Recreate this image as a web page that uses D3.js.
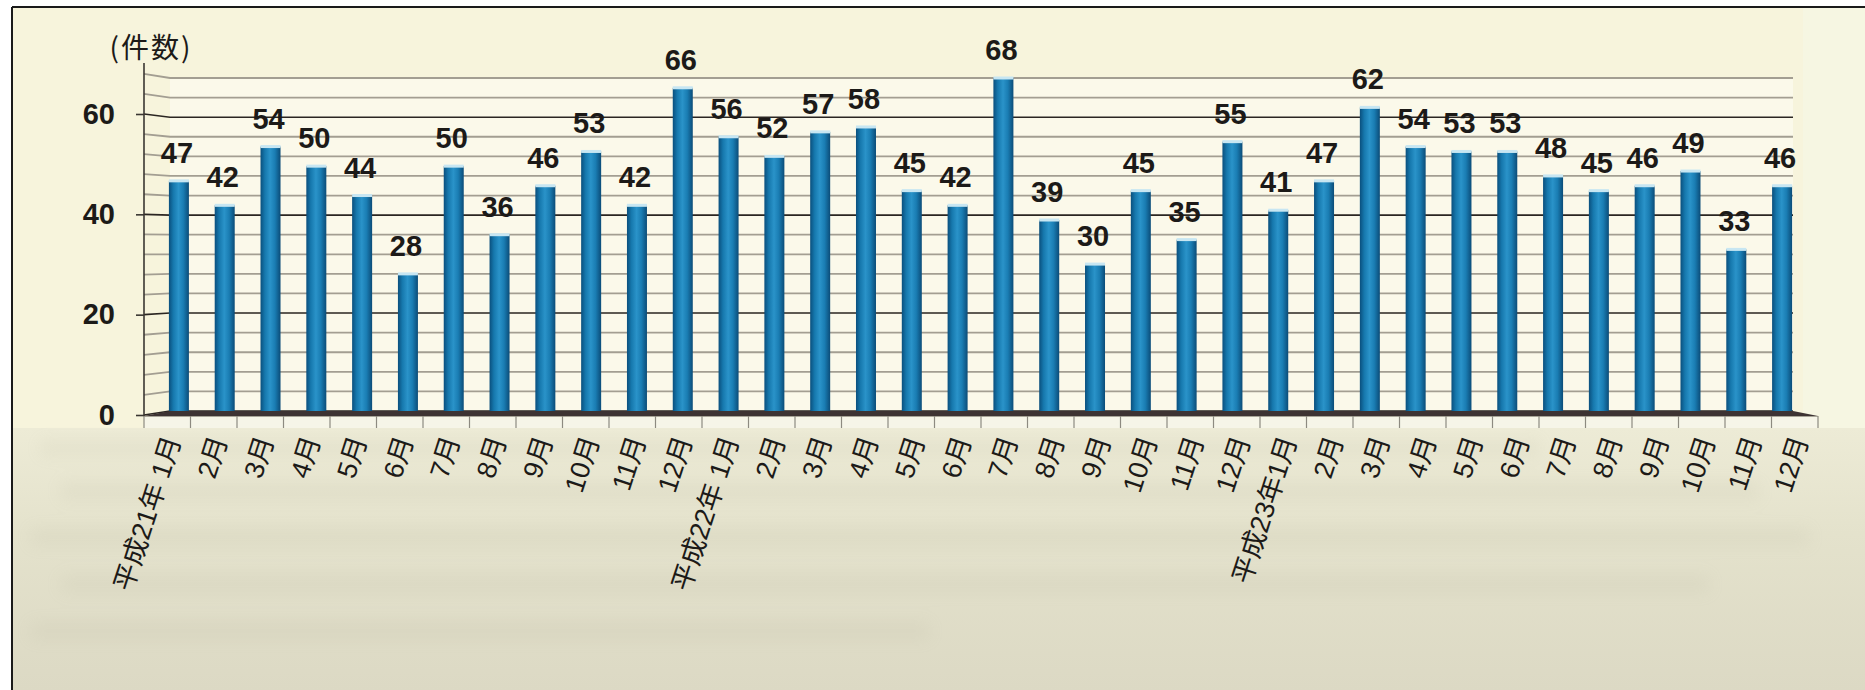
<!DOCTYPE html>
<html>
<head>
<meta charset="utf-8">
<script src="https://cdn.jsdelivr.net/npm/d3@7"></script>
<style>
  body { margin: 0; background: #ffffff; }
  svg { display: block; }
</style>
</head>
<body>
<svg id="chart" width="1865" height="690"></svg>
<script>
// Monthly counts (件数), Heisei 21 – 23
const yearLabels = ["平成21年 ", "平成22年 ", "平成23年"];
const monthLabels = ["1月", "2月", "3月", "4月", "5月", "6月", "7月", "8月", "9月", "10月", "11月", "12月"];
const countsH21 = [47, 42, 54, 50, 44, 28, 50, 36, 46, 53, 42, 66];
const countsH22 = [56, 52, 57, 58, 45, 42, 68, 39, 30, 45, 35, 55];
const countsH23 = [41, 47, 62, 54, 53, 53, 48, 45, 46, 49, 33, 46];
const yTickValues = [0, 20, 40, 60];
const gridValues = [0, 4, 8, 12, 16, 20, 24, 28, 32, 36, 40, 44, 48, 52, 56, 60, 64, 68];
const unitLabel = "(件数)";

const seriesByYear = [countsH21, countsH22, countsH23];
const rows = [];
seriesByYear.forEach((vals, yi) => {
  vals.forEach((v, mi) => {
    rows.push({
      id: yi * 12 + mi,
      label: (mi === 0 ? yearLabels[yi] : "") + monthLabels[mi],
      value: v
    });
  });
});
const ids = rows.map(d => d.id);

const svg = d3.select("#chart");
const W = 1865, H = 690;

// front (axis) and back (wall) geometry of the 3-D column chart
const xFront = d3.scaleBand().domain(ids).range([144, 1818]);
const xBack = d3.scaleBand().domain(ids).range([156, 1805]);
const yFront = d3.scaleLinear().domain([0, 60]).range([415, 114]);
const yBack = d3.scaleLinear().domain([0, 68]).range([411, 78]);
const wallLeft = 170, wallRight = 1793;

const defs = svg.append("defs");
const barGrad = defs.append("linearGradient").attr("id", "barGrad")
  .attr("x1", "0%").attr("x2", "100%").attr("y1", "0%").attr("y2", "0%");
[["0%", "#0a4f7d"], ["22%", "#1678ad"], ["48%", "#2a93c9"], ["72%", "#1a7db3"], ["100%", "#0b4c78"]]
  .forEach(([o, c]) => barGrad.append("stop").attr("offset", o).attr("stop-color", c));

const lowGrad = defs.append("linearGradient").attr("id", "lowGrad")
  .attr("x1", "0%").attr("x2", "0%").attr("y1", "0%").attr("y2", "100%");
[["0%", "#edebd6"], ["40%", "#e4e2cc"], ["100%", "#dcd9c4"]]
  .forEach(([o, c]) => lowGrad.append("stop").attr("offset", o).attr("stop-color", c));

defs.append("filter").attr("id", "soft").attr("x", "-10%").attr("y", "-50%").attr("width", "120%").attr("height", "200%")
  .append("feGaussianBlur").attr("stdDeviation", 8);

// page background
svg.append("rect").attr("width", W).attr("height", H).attr("fill", "#ffffff");
svg.append("rect").attr("x", 12).attr("y", 7).attr("width", W - 12).attr("height", H - 7).attr("fill", "#f7f4dc");
svg.append("rect").attr("x", 1803).attr("y", 7).attr("width", W - 1803).attr("height", 421).attr("fill", "#f6f6e2");

// lower band of the sheet (faint show-through from the reverse side)
svg.append("rect").attr("x", 12).attr("y", 428).attr("width", W - 12).attr("height", H - 428).attr("fill", "url(#lowGrad)");
const haze = svg.append("g").attr("filter", "url(#soft)").attr("opacity", 0.1);
[[40, 440, 1500, 16], [60, 482, 1700, 18], [30, 528, 1780, 18], [60, 575, 1650, 18], [30, 622, 900, 18]]
  .forEach(([x, y, w, h]) => haze.append("rect").attr("x", x).attr("y", y).attr("width", w).attr("height", h).attr("fill", "#a9a690"));

// back wall
svg.append("rect").attr("x", wallLeft).attr("y", yBack(68)).attr("width", wallRight - wallLeft)
  .attr("height", yBack(0) - yBack(68)).attr("fill", "#fbf9ea");

// gridlines: short diagonal on the side wall, then across the back wall
const grid = svg.append("g");
gridValues.forEach(v => {
  const major = yTickValues.includes(v);
  grid.append("path")
    .attr("d", `M144,${yFront(v)}L${wallLeft},${yBack(v)}L${wallRight},${yBack(v)}`)
    .attr("fill", "none")
    .attr("stroke", major ? "#2b2622" : "#a39e92")
    .attr("stroke-width", major ? 1.6 : 1.8);
});

// floor
svg.append("path")
  .attr("d", `M${wallLeft},${yBack(0)}L${wallRight},${yBack(0)}L1818,416L144,416Z`)
  .attr("fill", "#3d3333");
svg.append("rect").attr("x", 144).attr("y", 416).attr("width", 1818 - 144).attr("height", 12).attr("fill", "#f6f5e8");
svg.append("line").attr("x1", 144).attr("x2", 1818).attr("y1", 416.5).attr("y2", 416.5)
  .attr("stroke", "#a8a598").attr("stroke-width", 1);

// category boundary ticks
const bounds = ids.map(id => xFront(id)).concat([xFront.range()[1]]);
svg.append("g").selectAll("line").data(bounds).join("line")
  .attr("x1", d => d).attr("x2", d => d).attr("y1", 416).attr("y2", 428)
  .attr("stroke", "#8d8a80").attr("stroke-width", 1.2);

// bars
const barW = 20;
const bars = svg.append("g");
bars.selectAll("rect.bar").data(rows).join("rect")
  .attr("class", "bar")
  .attr("x", d => xBack(d.id) + xBack.bandwidth() / 2 - barW / 2)
  .attr("y", d => yBack(d.value))
  .attr("width", barW)
  .attr("height", d => yBack(0) - yBack(d.value))
  .attr("fill", "url(#barGrad)");
bars.selectAll("rect.cap").data(rows).join("rect")
  .attr("class", "cap")
  .attr("x", d => xBack(d.id) + xBack.bandwidth() / 2 - barW / 2)
  .attr("y", d => yBack(d.value) - 1.5)
  .attr("width", barW)
  .attr("height", 3)
  .attr("fill", "#c7e6f2");

// value labels
svg.append("g").selectAll("text").data(rows).join("text")
  .attr("x", d => xBack(d.id) + xBack.bandwidth() / 2 - 2)
  .attr("y", d => yBack(d.value) - 18)
  .attr("text-anchor", "middle")
  .attr("font-family", "'Liberation Sans', Arial, sans-serif")
  .attr("font-weight", "bold")
  .attr("font-size", 29)
  .attr("fill", "#1c1a18")
  .text(d => d.value);

// y axis
svg.append("line").attr("x1", 144).attr("x2", 144).attr("y1", 63).attr("y2", 416)
  .attr("stroke", "#3a3632").attr("stroke-width", 1.6);
const yAxis = svg.append("g").attr("transform", "translate(144,0)")
  .call(d3.axisLeft(yFront).tickValues(yTickValues).tickSize(8).tickSizeOuter(0).tickPadding(21));
yAxis.select(".domain").remove();
yAxis.selectAll(".tick line").attr("stroke", "#3a3632").attr("stroke-width", 1.6);
yAxis.selectAll(".tick text")
  .attr("font-family", "'Liberation Sans', Arial, sans-serif")
  .attr("font-weight", "bold")
  .attr("font-size", 29)
  .attr("fill", "#1c1a18");

svg.append("text")
  .attr("x", 151).attr("y", 58)
  .attr("text-anchor", "middle")
  .attr("font-family", "'Noto Sans CJK JP', sans-serif")
  .attr("font-size", 28)
  .attr("letter-spacing", 2)
  .attr("fill", "#1c1a18")
  .text(unitLabel);

// x axis labels (rotated)
const xAxis = svg.append("g").attr("transform", "translate(0,437)")
  .call(d3.axisBottom(xFront).tickSize(0).tickFormat(id => rows[id].label));
xAxis.select(".domain").remove();
xAxis.selectAll(".tick text")
  .attr("x", 0).attr("y", 0).attr("dy", "0.35em")
  .attr("transform", "translate(5,0) rotate(-72)")
  .attr("text-anchor", "end")
  .attr("font-family", "'Liberation Sans', 'Noto Sans CJK JP', sans-serif")
  .attr("font-size", 27)
  .attr("fill", "#1c1a18");

// sheet frame
svg.append("line").attr("x1", 12).attr("x2", W).attr("y1", 7).attr("y2", 7)
  .attr("stroke", "#1a1a1a").attr("stroke-width", 2);
svg.append("line").attr("x1", 12).attr("x2", 12).attr("y1", 7).attr("y2", H)
  .attr("stroke", "#1a1a1a").attr("stroke-width", 2);
</script>
</body>
</html>
